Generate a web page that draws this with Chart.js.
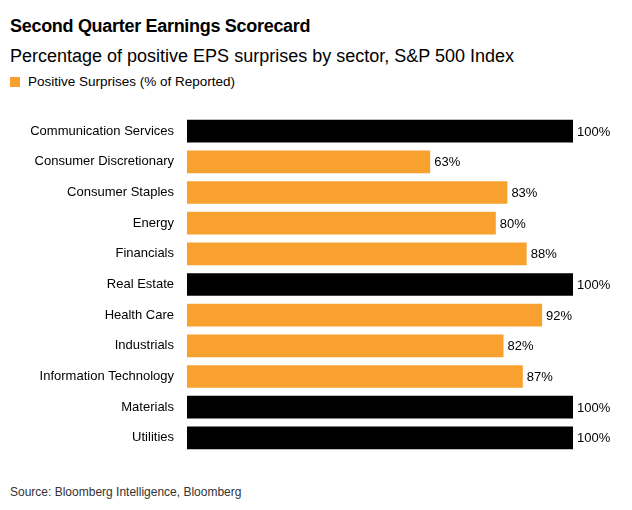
<!DOCTYPE html>
<html>
<head>
<meta charset="utf-8">
<script src="https://cdn.jsdelivr.net/npm/chart.js@4"></script>
<style>
  body { margin: 0; background: #fff; font-family: "Liberation Sans", Arial, sans-serif; }
  #wrap { position: relative; width: 632px; height: 510px; }
  h1 { position: absolute; left: 10px; top: 16px; margin: 0; font-size: 18px; font-weight: bold; letter-spacing: -0.3px; }
  .sub { position: absolute; left: 10px; top: 46px; font-size: 18px; color: #000; }
  .legend { position: absolute; left: 10px; top: 74px; font-size: 13.5px; }
  .legend span { display: inline-block; width: 10px; height: 10px; background: #f9a12e; margin-right: 8px; vertical-align: -1px; }
  .src { position: absolute; left: 10px; top: 485px; font-size: 12px; color: #333; }
  #chart { position: absolute; left: 0; top: 103px; }
</style>
</head>
<body>
<div id="wrap">
  <h1>Second Quarter Earnings Scorecard</h1>
  <div class="sub">Percentage of positive EPS surprises by sector, S&amp;P 500 Index</div>
  <div class="legend"><span></span>Positive Surprises (% of Reported)</div>
  <canvas id="chart" width="632" height="363"></canvas>
  <div class="src">Source: Bloomberg Intelligence, Bloomberg</div>
</div>
<script>
const sectors = ['Communication Services', 'Consumer Discretionary', 'Consumer Staples', 'Energy',
  'Financials', 'Real Estate', 'Health Care', 'Industrials', 'Information Technology', 'Materials', 'Utilities'];
const positive = [100, 63, 83, 80, 88, 100, 92, 82, 87, 100, 100];

// 100% en noir, le reste en orange
const colors = positive.map(v => v === 100 ? '#000000' : '#f9a12e');

const valueLabels = {
  id: 'valueLabels',
  afterDatasetsDraw(chart) {
    const ctx = chart.ctx;
    const meta = chart.getDatasetMeta(0);
    ctx.save();
    ctx.font = '13px "Liberation Sans", Arial, sans-serif';
    ctx.fillStyle = '#000';
    ctx.textBaseline = 'middle';
    meta.data.forEach((bar, i) => {
      ctx.fillText(positive[i] + '%', bar.x + 4, bar.y + 1);
    });
    ctx.restore();
  }
};

new Chart(document.getElementById('chart'), {
  type: 'bar',
  data: {
    labels: sectors,
    datasets: [{
      data: positive,
      backgroundColor: colors,
      categoryPercentage: 1,
      barPercentage: 0.74
    }]
  },
  options: {
    indexAxis: 'y',
    responsive: false,
    animation: false,
    devicePixelRatio: 1,
    layout: { padding: { left: 0, right: 59, top: 0, bottom: 0 } },
    plugins: { legend: { display: false }, tooltip: { enabled: false } },
    scales: {
      x: { min: 0, max: 100, display: false },
      y: {
        grid: { display: false },
        border: { display: false },
        ticks: { color: '#000', padding: 5, font: { size: 13, family: '"Liberation Sans", Arial, sans-serif' } },
        afterFit(axis) { axis.width = 187; }
      }
    }
  },
  plugins: [valueLabels]
});
</script>
</body>
</html>
